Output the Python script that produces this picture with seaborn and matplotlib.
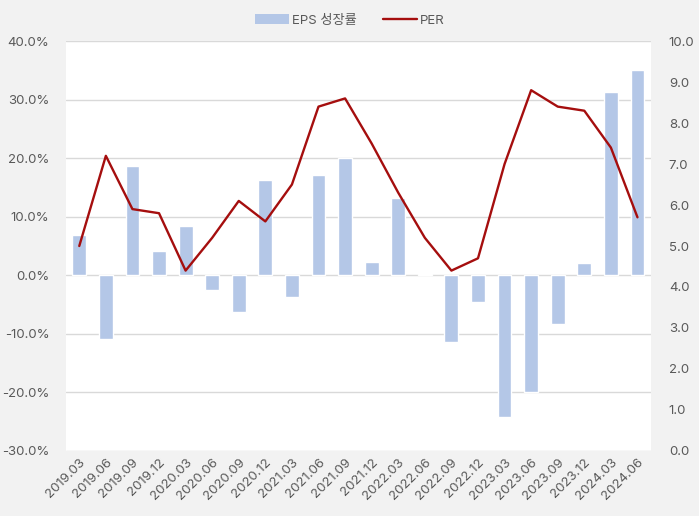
import pandas as pd
import numpy as np
import matplotlib
matplotlib.use('Agg')
import matplotlib.pyplot as plt
import seaborn as sns
from matplotlib.ticker import FuncFormatter, MultipleLocator
from matplotlib.patches import Patch
from matplotlib.lines import Line2D

# 분기별 데이터
quarters = ['2019.03', '2019.06', '2019.09', '2019.12', '2020.03', '2020.06', '2020.09', '2020.12',
            '2021.03', '2021.06', '2021.09', '2021.12', '2022.03', '2022.06', '2022.09', '2022.12',
            '2023.03', '2023.06', '2023.09', '2023.12', '2024.03', '2024.06']
eps_growth = [6.8, -10.8, 18.7, 4.1, 8.4, -2.5, -6.2, 16.3, -3.7, 17.2, 20.0, 2.2,
              13.2, 0.3, -11.4, -4.6, -24.2, -20.0, -8.3, 2.1, 31.3, 35.0]
per = [5.0, 7.2, 5.9, 5.8, 4.4, 5.2, 6.1, 5.6, 6.5, 8.4, 8.6, 7.5,
       6.3, 5.2, 4.4, 4.7, 7.0, 8.8, 8.4, 8.3, 7.4, 5.7]

df = pd.DataFrame({'quarter': quarters, 'eps': eps_growth, 'per': per})

sns.set_style('white')
plt.rcParams['font.family'] = ['Inter', 'Noto Sans CJK KR', 'DejaVu Sans']

bar_color = '#b4c7e7'
line_color = '#a50e0e'
text_color = '#595959'

fig = plt.figure(figsize=(6.99, 5.16), dpi=100, facecolor='#f2f2f2')
ax = fig.add_axes([0.0944, 0.126, 0.8366, 0.7945])
ax.set_facecolor('white')

sns.barplot(data=df, x='quarter', y='eps', color=bar_color, width=0.52, ax=ax, saturation=1)
ax.set_ylim(-30, 40)
ax.yaxis.set_major_locator(MultipleLocator(10))
ax.yaxis.set_major_formatter(FuncFormatter(lambda v, p: f'{v:.1f}%'))
ax.grid(axis='y', color='#d9d9d9', linewidth=1)
ax.set_axisbelow(True)
ax.set_xlim(-0.5, len(quarters) - 0.5)
ax.set_xlabel('')
ax.set_ylabel('')

ax2 = ax.twinx()
sns.lineplot(data=df, x='quarter', y='per', color=line_color, linewidth=1.7, ax=ax2, sort=False)
ax2.set_ylim(0, 10)
ax2.yaxis.set_major_locator(MultipleLocator(1))
ax2.yaxis.set_major_formatter(FuncFormatter(lambda v, p: f'{v:.1f}'))
ax2.set_ylabel('')
ax2.set_xlim(-0.5, len(quarters) - 0.5)

for a in (ax, ax2):
    for s in a.spines.values():
        s.set_visible(False)
    a.tick_params(axis='both', length=0, colors=text_color, labelsize=9.5)

ax.tick_params(axis='y', pad=12)
ax2.tick_params(axis='y', pad=13)
ax.tick_params(axis='x', pad=4)
plt.setp(ax.get_xticklabels(), rotation=45, ha='right', rotation_mode='anchor')

handles = [Patch(facecolor=bar_color, edgecolor='none'),
           Line2D([0], [0], color=line_color, linewidth=1.7)]
fig.legend(handles, ['EPS 성장률', 'PER'], loc='upper center', bbox_to_anchor=(0.5, 0.995),
           ncol=2, frameon=False, fontsize=9.5, labelcolor=text_color,
           handlelength=2.6, handleheight=0.7, columnspacing=2.0, handletextpad=0.2)

fig.savefig('out.png', dpi=100, facecolor=fig.get_facecolor())
